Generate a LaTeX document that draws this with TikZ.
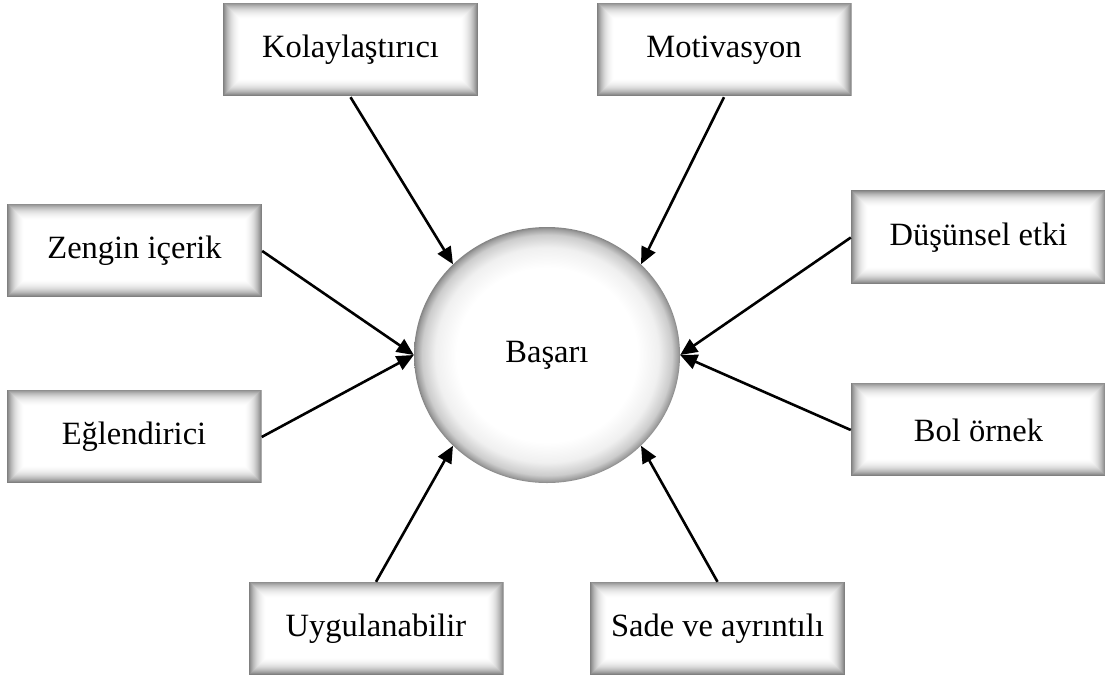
\documentclass[tikz,border=0pt]{standalone}
\usepackage{fontspec}
\setmainfont{Liberation Serif}
\usepackage{tikz}
\usetikzlibrary{arrows.meta, shapes.geometric}

\pgfdeclareradialshading{rimglow}{\pgfpoint{0bp}{0bp}}{%
  color(0bp)=(white); color(17bp)=(white); color(21bp)=(black!6);
  color(23.5bp)=(black!20); color(24.6bp)=(black!38); color(25bp)=(black!48); color(50bp)=(black!48)}

\begin{document}
\begin{tikzpicture}[
  x=1pt, y=-1pt,
  font=\fontsize{32.5}{38}\selectfont,
  factor/.style={minimum width=255pt, minimum height=94pt, inner sep=0pt, fill=white,
    path picture={
      \foreach \k/\c in {0/50,1/44,2/38,3/33,4/28,5/24,6/20,7/16.5,8/13.5,9/11,10/8.5,11/6.5,12/5,13/3.5,14/2.2,15/1.2,16/0.5,17/0}{
        \fill[black!\c] ([shift={(\k pt,\k pt+0.6pt)}]path picture bounding box.south west)
          rectangle ([shift={(-\k pt,-\k pt+0.6pt)}]path picture bounding box.north east);
      }
    }},
  goal/.style={ellipse, minimum width=266pt, minimum height=256pt, inner sep=0pt, shading=rimglow},
  arr/.style={-{Triangle[length=17pt, width=15pt]}, line width=2.6pt}
]
\useasboundingbox (0,0) rectangle (1105,680);

\node[goal] (basari) at (547,355) {Başarı};

\node[factor] (kolay) at (350.5,50) {Kolaylaştırıcı};
\node[factor] (motiv) at (724,50) {Motivasyon};
\node[factor] (zengin) at (134.5,251) {Zengin içerik};
\node[factor] (eglen) at (134,437) {Eğlendirici};
\node[factor] (dusun) at (978.5,237.5) {Düşünsel etki};
\node[factor] (bol) at (978.5,430) {Bol örnek};
\node[factor] (uygul) at (376,629) {Uygulanabilir};
\node[factor] (sade) at (717.5,629) {Sade ve ayrıntılı};

\draw[arr] (kolay.south) -- (basari.136);
\draw[arr] (motiv.south) -- (basari.44);
\draw[arr] (zengin.east) -- (basari.180);
\draw[arr] (eglen.east) -- (basari.180);
\draw[arr] (dusun.west) -- (basari.0);
\draw[arr] (bol.west) -- (basari.0);
\draw[arr] (uygul.north) -- (basari.224);
\draw[arr] (sade.north) -- (basari.316);
\end{tikzpicture}
\end{document}
